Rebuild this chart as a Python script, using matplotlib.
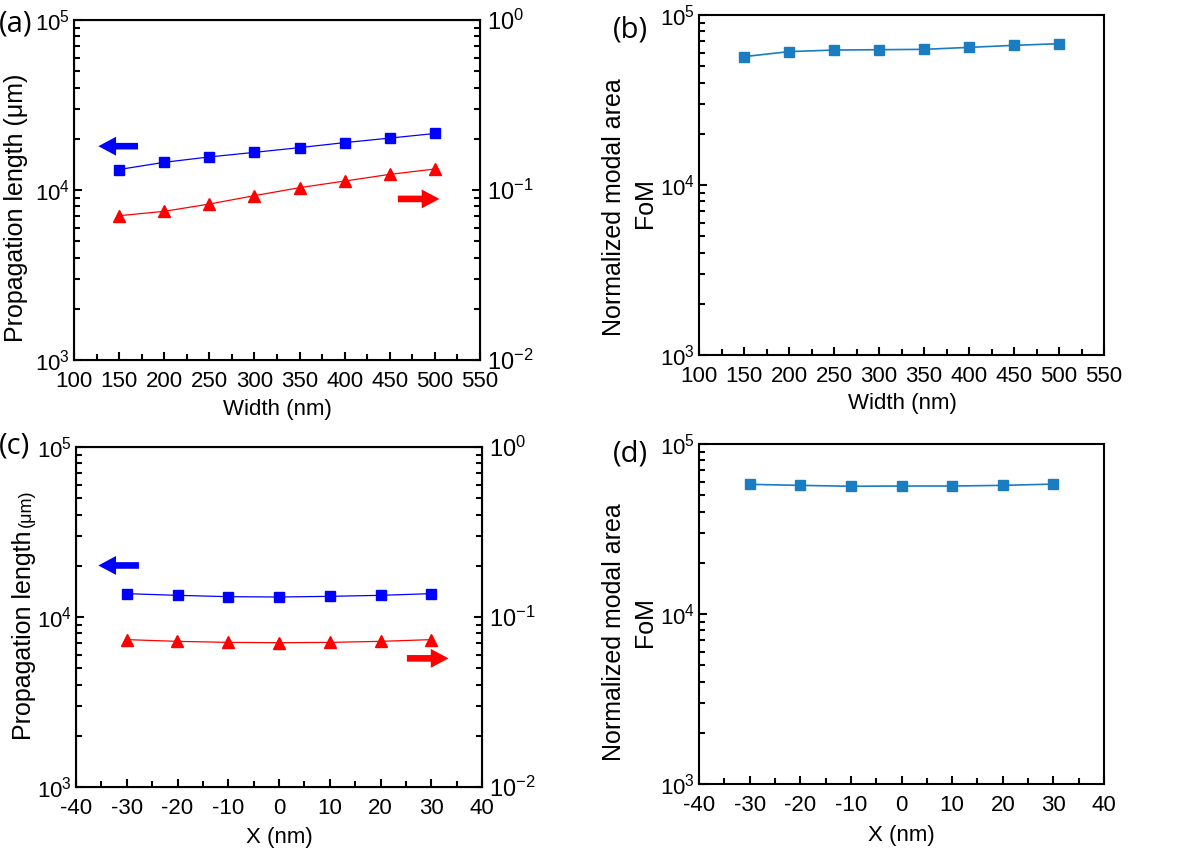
import matplotlib
matplotlib.use("Agg")
import matplotlib.pyplot as plt
import numpy as np
from matplotlib.ticker import MultipleLocator, LogLocator, NullFormatter

plt.rcParams['font.family'] = ['Liberation Sans', 'DejaVu Sans']
plt.rcParams['mathtext.fontset'] = 'custom'
plt.rcParams['mathtext.rm'] = 'Liberation Sans'
plt.rcParams['mathtext.it'] = 'Liberation Sans:italic'
plt.rcParams['axes.unicode_minus'] = False

# ---- data ----
width = [150, 200, 250, 300, 350, 400, 450, 500]
prop_len_w = [1.32e4, 1.455e4, 1.565e4, 1.665e4, 1.775e4, 1.90e4, 2.02e4, 2.15e4]
modal_area_w = [0.0706, 0.0749, 0.0827, 0.0926, 0.1032, 0.1129, 0.1236, 0.1329]
fom_w = [5.69e4, 6.09e4, 6.22e4, 6.25e4, 6.28e4, 6.45e4, 6.63e4, 6.78e4]

xshift = [-30, -20, -10, 0, 10, 20, 30]
prop_len_x = [1.372e4, 1.341e4, 1.317e4, 1.311e4, 1.323e4, 1.341e4, 1.372e4]
modal_area_x = [0.0736, 0.0719, 0.0709, 0.0706, 0.0709, 0.0719, 0.0736]
fom_x = [5.79e4, 5.71e4, 5.64e4, 5.66e4, 5.66e4, 5.71e4, 5.81e4]

W, H = 1200, 851
BLUE = '#0000ff'
RED = '#ff0000'
FOM_C = '#1a7cc1'
FS = 16      # tick labels and horizontal labels
FS_V = 18    # rotated (vertical) labels


def px_axes(fig, left, top, right, bottom):
    return fig.add_axes([left / W, 1 - bottom / H, (right - left) / W, (bottom - top) / H])


def ftext(fig, x, y, s, **kw):
    fig.text(x / W, 1 - y / H, s, **kw)


def style_x(ax, lo, hi, major, minor):
    ax.set_xlim(lo, hi)
    ax.xaxis.set_major_locator(MultipleLocator(major))
    ax.xaxis.set_minor_locator(MultipleLocator(minor))


def style_log_y(ax, lo, hi):
    ax.set_yscale('log')
    ax.set_ylim(lo, hi)
    ax.yaxis.set_major_locator(LogLocator(base=10, numticks=10))
    ax.yaxis.set_minor_locator(LogLocator(base=10, subs=np.arange(2, 10), numticks=20))
    ax.yaxis.set_minor_formatter(NullFormatter())


def base_style(ax):
    for s in ax.spines.values():
        s.set_linewidth(1.5)
    ax.tick_params(which='both', direction='in', top=False, right=False, labelsize=FS, width=1.5)
    ax.tick_params(which='major', length=6)
    ax.tick_params(which='minor', length=4)
    ax.tick_params(axis='x', pad=8)
    ax.tick_params(axis='y', pad=3)


def right_style(ax):
    ax.tick_params(which='both', direction='in', left=False, right=True, labelsize=FS + 1, width=1.5)
    ax.tick_params(which='major', length=6, pad=5)
    ax.tick_params(which='minor', length=4)


def arrow(ax, tail, head, color):
    ax.annotate('', xy=head, xytext=tail,
                arrowprops=dict(arrowstyle='simple,head_length=0.75,head_width=0.8,tail_width=0.28',
                                mutation_scale=17, color=color, lw=0, shrinkA=0, shrinkB=0))


fig = plt.figure(figsize=(W / 100, H / 100), dpi=100)

# ---- (a) ----
ax_a = px_axes(fig, 74, 20, 480, 360)
base_style(ax_a)
style_x(ax_a, 100, 550, 50, 25)
style_log_y(ax_a, 1e3, 1e5)
ax_a.plot(width, prop_len_w, color=BLUE, lw=0.9, marker='s', ms=7, mfc=BLUE, mec=BLUE)
ax_a2 = ax_a.twinx()
style_log_y(ax_a2, 1e-2, 1e0)
right_style(ax_a2)
ax_a2.plot(width, modal_area_w, color=RED, lw=0.9, marker='^', ms=8, mfc=RED, mec=RED)
arrow(ax_a, (171, 1.81e4), (127, 1.81e4), BLUE)
arrow(ax_a, (459, 8.86e3), (505, 8.86e3), RED)

# ---- (b) ----
ax_b = px_axes(fig, 699, 15, 1104, 355)
base_style(ax_b)
style_x(ax_b, 100, 550, 50, 25)
style_log_y(ax_b, 1e3, 1e5)
ax_b.plot(width, fom_w, color=FOM_C, lw=1.2, marker='s', ms=7, mfc=FOM_C, mec=FOM_C)

# ---- (c) ----
ax_c = px_axes(fig, 76, 447, 482, 787)
base_style(ax_c)
style_x(ax_c, -40, 40, 10, 5)
style_log_y(ax_c, 1e3, 1e5)
ax_c.plot(xshift, prop_len_x, color=BLUE, lw=0.9, marker='s', ms=7, mfc=BLUE, mec=BLUE)
ax_c2 = ax_c.twinx()
style_log_y(ax_c2, 1e-2, 1e0)
right_style(ax_c2)
ax_c2.plot(xshift, modal_area_x, color=RED, lw=0.9, marker='^', ms=8, mfc=RED, mec=RED)
arrow(ax_c, (-27.6, 2.01e4), (-35.6, 2.01e4), BLUE)
arrow(ax_c, (25.2, 5.71e3), (33.4, 5.71e3), RED)

# ---- (d) ----
ax_d = px_axes(fig, 699, 444, 1104, 784)
base_style(ax_d)
style_x(ax_d, -40, 40, 10, 5)
style_log_y(ax_d, 1e3, 1e5)
ax_d.plot(xshift, fom_x, color=FOM_C, lw=1.2, marker='s', ms=7, mfc=FOM_C, mec=FOM_C)

# ---- axis labels ----
ftext(fig, 16, 208, 'Propagation length (μm)', rotation=90, ha='center', va='center', fontsize=FS_V)
ftext(fig, 614, 207, 'Normalized modal area', rotation=90, ha='center', va='center', fontsize=FS_V)
ftext(fig, 645, 203, 'FoM', rotation=90, ha='center', va='center', fontsize=FS_V)
ftext(fig, 277, 409, 'Width (nm)', ha='center', va='center', fontsize=FS)
ftext(fig, 902, 403, 'Width (nm)', ha='center', va='center', fontsize=FS)

ftext(fig, 24, 530, 'Propagation length', rotation=90, ha='center', va='top', fontsize=FS_V)
ftext(fig, 26, 527, '(μm)', rotation=90, ha='center', va='bottom', fontsize=13)
ftext(fig, 614, 632, 'Normalized modal area', rotation=90, ha='center', va='center', fontsize=FS_V)
ftext(fig, 645, 622, 'FoM', rotation=90, ha='center', va='center', fontsize=FS_V)
ftext(fig, 279, 837, 'X (nm)', ha='center', va='center', fontsize=FS)
ftext(fig, 901, 835, 'X (nm)', ha='center', va='center', fontsize=FS)

# ---- panel letters ----
for x, y, s in [(-1, 24, '(a)'), (613, 30, '(b)'), (-1, 446, '(c)'), (613, 454, '(d)')]:
    ftext(fig, x, y, s, ha='left', va='center', fontsize=21, family=['Open Sans', 'DejaVu Sans'])

fig.savefig('out.png', dpi=100)
